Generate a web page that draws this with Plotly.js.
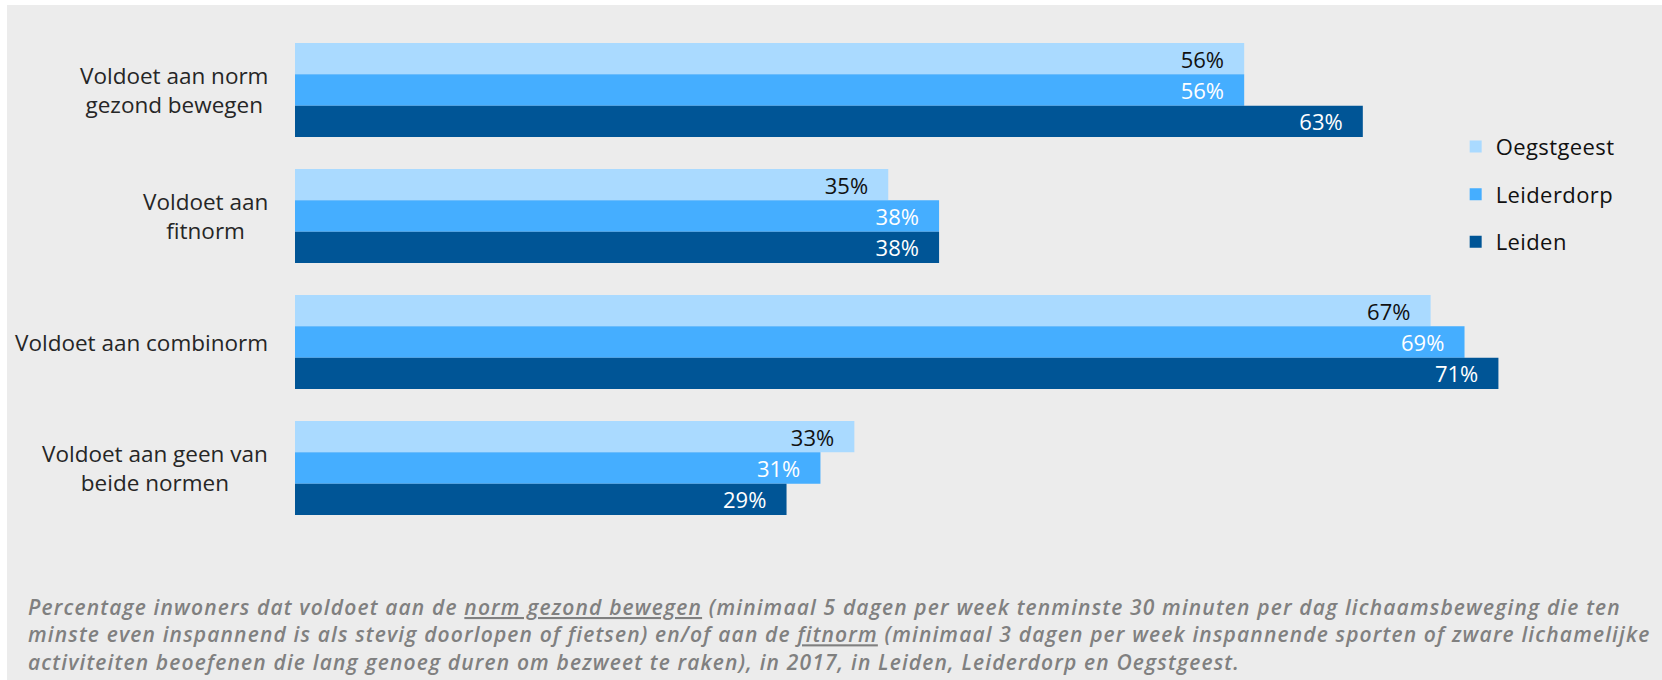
<!DOCTYPE html>
<html>
<head>
<meta charset="utf-8">
<script src="https://cdn.plot.ly/plotly-3.0.1.min.js"></script>
<style>
  html, body { margin: 0; padding: 0; background: #ffffff; }
  #chart { position: absolute; left: 7px; top: 5px; width: 1655px; height: 675px; }
  #chart g.annotation[data-index="4"] text { letter-spacing: 1.15px; }
  #chart g.legend text.legendtext { letter-spacing: 0.4px; }
</style>
</head>
<body>
<div id="chart"></div>
<script>
// Categories (top to bottom)
const categories = [
  "Voldoet aan norm<br>gezond bewegen",
  "Voldoet aan<br>fitnorm",
  "Voldoet aan combinorm",
  "Voldoet aan geen van<br>beide normen"
];
const seriesNames = ["Oegstgeest", "Leiderdorp", "Leiden"];
const oegstgeest = [56, 35, 67, 33];
const leiderdorp = [56, 38, 69, 31];
const leiden     = [63, 38, 71, 29];
const seriesColors = ["#AADAFF", "#45AEFF", "#005596"];
const labelColors  = ["#111111", "#ffffff", "#ffffff"];
const footnote =
  "<i>Percentage inwoners dat voldoet aan de <u>norm gezond bewegen</u> (minimaal 5 dagen per week tenminste 30 minuten per dag lichaamsbeweging die ten<br>" +
  "minste even inspannend is als stevig doorlopen of fietsen) en/of aan de <u>fitnorm</u> (minimaal 3 dagen per week inspannende sporten of zware lichamelijke<br>" +
  "activiteiten beoefenen die lang genoeg duren om bezweet te raken), in 2017, in Leiden, Leiderdorp en Oegstgeest.</i>";

const FONT = "Segoe UI, Open Sans, sans-serif";
const values = [oegstgeest, leiderdorp, leiden];
const pad = "\u00a0\u00a0\u00a0";

const traces = seriesNames.map((name, i) => ({
  type: "bar",
  orientation: "h",
  name: name,
  legendgroup: name,
  y: categories,
  x: values[i],
  marker: { color: seriesColors[i], line: { width: 0 } },
  text: values[i].map(v => v + "%" + pad),
  texttemplate: "%{text}",
  textposition: "inside",
  insidetextanchor: "end",
  constraintext: "none",
  textangle: 0,
  insidetextfont: { family: FONT, size: 22, color: labelColors[i] },
  hoverinfo: "skip"
}));

const annotations = categories.map(c => ({
  xref: "paper", yref: "y",
  x: 0, y: c,
  xanchor: "right", yanchor: "middle",
  xshift: -25,
  align: "center",
  showarrow: false,
  text: c,
  font: { family: FONT, size: 22.5, color: "#262626" }
}));

annotations.push({
  xref: "paper", yref: "paper",
  x: 0, y: 0,
  xanchor: "left", yanchor: "top",
  xshift: -269, yshift: -60,
  align: "left",
  showarrow: false,
  text: footnote,
  font: { family: FONT, size: 21, color: "#808080", weight: 600 }
});

const layout = {
  width: 1655,
  height: 675,
  margin: { l: 288, r: 39, t: 22, b: 149 },
  paper_bgcolor: "#ECECEC",
  plot_bgcolor: "#ECECEC",
  barmode: "group",
  bargap: 0.254,
  bargroupgap: 0,
  showlegend: true,
  legend: {
    x: 0.874, y: 0.804, xanchor: "left", yanchor: "top",
    traceorder: "grouped",
    tracegroupgap: 16,
    bgcolor: "rgba(0,0,0,0)",
    font: { family: FONT, size: 22, color: "#111111" }
  },
  xaxis: {
    range: [0, 78.35],
    visible: false,
    showgrid: false,
    zeroline: false,
    fixedrange: true
  },
  yaxis: {
    autorange: "reversed",
    showticklabels: false,
    showgrid: false,
    zeroline: false,
    showline: false,
    ticks: "",
    fixedrange: true
  },
  annotations: annotations,
  font: { family: FONT }
};

Plotly.newPlot("chart", traces, layout, { displayModeBar: false, staticPlot: true });
</script>
</body>
</html>
